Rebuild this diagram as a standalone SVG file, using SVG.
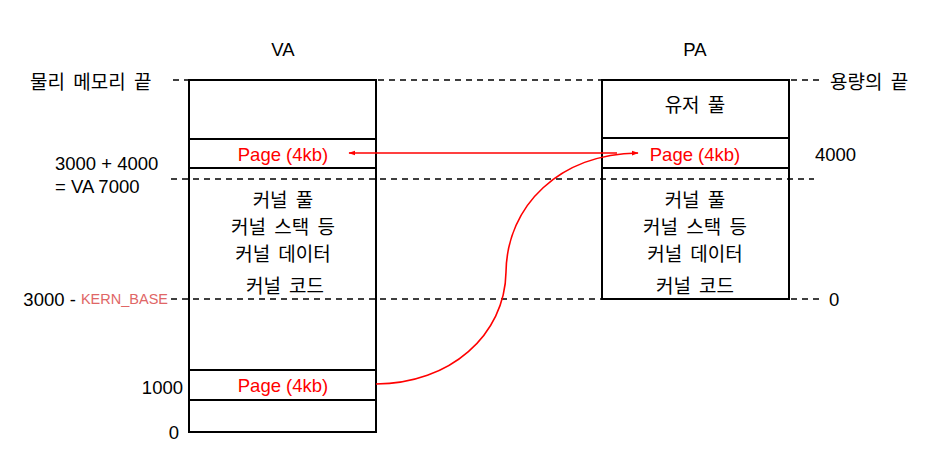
<svg xmlns="http://www.w3.org/2000/svg" width="936" height="453" viewBox="0 0 936 453">
<style>
text{font-family:"Liberation Sans",sans-serif;font-size:18.5px;fill:#000;dominant-baseline:central}
.k{font-family:"Noto Sans CJK KR",sans-serif;font-size:19px;word-spacing:4px}
.c{text-anchor:middle}
.e{text-anchor:end}
.r{fill:#ff0000}
.box{fill:#fff;stroke:#000;stroke-width:2}
.sep{stroke:#000;stroke-width:2}
.dash{stroke:#000;stroke-width:1.5;stroke-dasharray:6,5;fill:none}
.red{stroke:#ff0000;stroke-width:1.6;fill:none}
</style>
<defs>
<marker id="ah" viewBox="0 0 10 10" refX="9" refY="5" markerWidth="7" markerHeight="7" orient="auto-start-reverse" markerUnits="userSpaceOnUse">
<path d="M0,1.5 L10,5 L0,8.5 z" fill="#ff0000"/>
</marker>
</defs>
<text class="c" x="283" y="49">VA</text>
<text class="c" x="695" y="49">PA</text>
<g id="va">
<rect class="box" x="189" y="80" width="187" height="352"/>
<line class="sep" x1="189" y1="139" x2="376" y2="139"/>
<line class="sep" x1="189" y1="168" x2="376" y2="168"/>
<line class="sep" x1="189" y1="370" x2="376" y2="370"/>
<line class="sep" x1="189" y1="400" x2="376" y2="400"/>
<text class="c r" x="283" y="154">Page (4kb)</text>
<text class="c k" x="283" y="198">커널 풀</text>
<text class="c k" x="283" y="225">커널 스택 등</text>
<text class="c k" x="283" y="252">커널 데이터</text>
<text class="c k" x="285" y="284">커널 코드</text>
<text class="c r" x="283" y="385">Page (4kb)</text>
</g>
<g id="pa">
<rect class="box" x="602" y="80" width="187" height="219"/>
<line class="sep" x1="602" y1="138" x2="789" y2="138"/>
<line class="sep" x1="602" y1="168" x2="789" y2="168"/>
<text class="c k" x="695" y="103">유저 풀</text>
<text class="c r" x="695" y="154">Page (4kb)</text>
<text class="c k" x="695" y="198">커널 풀</text>
<text class="c k" x="695" y="225">커널 스택 등</text>
<text class="c k" x="695" y="252">커널 데이터</text>
<text class="c k" x="695" y="284">커널 코드</text>
</g>
<g id="guides">
<line class="dash" x1="173" y1="80" x2="189" y2="80"/>
<line class="dash" x1="378" y1="80" x2="602" y2="80"/>
<line class="dash" x1="791" y1="80" x2="822" y2="80"/>
<line class="dash" x1="171" y1="179" x2="814" y2="179"/>
<line class="dash" x1="171" y1="299" x2="602" y2="299"/>
<line class="dash" x1="791" y1="299" x2="822" y2="299"/>
</g>
<g id="labels">
<text class="k" x="30" y="80">물리 메모리 끝</text>
<text class="k" x="830" y="80">용량의 끝</text>
<text x="55" y="163">3000 + 4000</text>
<text x="55" y="186">= VA 7000</text>
<text x="815" y="154">4000</text>
<text class="e" x="168" y="299">3000 - <tspan style="fill:#e06666;font-size:14.5px">KERN_BASE</tspan></text>
<text x="829" y="299">0</text>
<text class="e" x="183" y="387">1000</text>
<text class="e" x="179" y="432">0</text>
</g>
<g id="connectors">
<line class="red" x1="617" y1="153" x2="349" y2="153" marker-end="url(#ah)"/>
<path class="red" d="M376,384 C450,384 505,335 506,272 C507,205 560,154 638,153" marker-end="url(#ah)"/>
</g>
</svg>
